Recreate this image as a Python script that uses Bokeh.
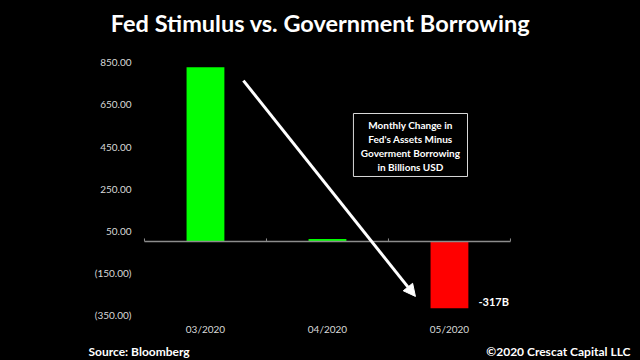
from bokeh.plotting import figure
from bokeh.layouts import column
from bokeh.models import Range1d, FixedTicker, Arrow, NormalHead
from bokeh.core.properties import value
from bokeh.embed import file_html
from bokeh.resources import INLINE

# ---- data ----
categories = ["03/2020", "04/2020", "05/2020"]
values = [826, 12, -317]
colors = ["#00ff00", "#00ff00", "#ff0000"]
y_ticks = [850, 650, 450, 250, 50, -150, -350]
y_tick_labels = ["850.00", "650.00", "450.00", "250.00", "50.00", "(150.00)", "(350.00)"]
title_text = "Fed Stimulus vs. Government Borrowing"
note_lines = ["Monthly Change in", "Fed's Assets Minus", "Goverment Borrowing", "in Billions USD"]
last_label = "-317B"
source_text = "Source: Bloomberg"
credit_text = "\u00a92020 Crescat Capital LLC"

FONT = "Lato"
BG = "#000000"
W = 640


def text_strip(height):
    fig = figure(width=W, height=height, output_backend="svg", toolbar_location=None,
                 x_range=Range1d(0, W), y_range=Range1d(0, height),
                 min_border=0, background_fill_color=BG, border_fill_color=BG,
                 outline_line_color=None)
    fig.axis.visible = False
    fig.grid.visible = False
    fig.frame_align = False
    return fig


# header
h = text_strip(44)
h.text(x=[320], y=[22], text=[title_text], text_align="center", text_baseline="middle",
       text_color="white", text_font=value(FONT), text_font_style="bold",
       text_font_size="23.5px")

xs = list(range(len(categories)))

p = figure(width=W, height=296, output_backend="svg", toolbar_location=None,
           x_range=Range1d(-0.549, 3.566), y_range=Range1d(-375.2, 905.6),
           min_border_left=138, min_border_right=0, min_border_top=6, min_border_bottom=20,
           background_fill_color=BG, border_fill_color=BG, outline_line_color=None)
p.grid.visible = False
p.frame_align = False

# bars
p.vbar(x=xs, top=values, bottom=0, width=0.31, fill_color=colors, line_color=None)

# zero line and small ticks
p.line(x=[-0.5, len(categories) - 0.5], y=[0, 0], line_color="#8c8c8c", line_width=1.5)
bounds = [i - 0.5 for i in range(len(categories) + 1)]
p.segment(x0=bounds, y0=[0] * len(bounds), x1=bounds, y1=[14] * len(bounds),
          line_color="#8c8c8c", line_width=1)

# y axis
ya = p.yaxis[0]
ya.ticker = FixedTicker(ticks=y_ticks)
ya.major_label_overrides = {t: l for t, l in zip(y_ticks, y_tick_labels)}
ya.axis_line_color = None
ya.major_tick_line_color = None
ya.minor_tick_line_color = None
ya.major_tick_out = 0
ya.major_tick_in = 0
ya.major_label_standoff = 7
ya.major_label_text_color = "#d9d9d9"
ya.major_label_text_font = FONT
ya.major_label_text_font_size = "10px"

# x axis
xa = p.xaxis[0]
xa.ticker = FixedTicker(ticks=xs)
xa.major_label_overrides = {i: c for i, c in zip(xs, categories)}
xa.axis_line_color = None
xa.major_tick_line_color = None
xa.minor_tick_line_color = None
xa.major_tick_out = 0
xa.major_tick_in = 0
xa.major_label_standoff = 2
xa.major_label_text_color = "#d9d9d9"
xa.major_label_text_font = FONT
xa.major_label_text_font_size = "10px"

# arrow
p.add_layout(Arrow(x_start=0.311, y_start=763, x_end=1.721, y_end=-261,
                   line_color="white", line_width=3,
                   end=NormalHead(size=12, fill_color="white", line_color="white")))

# annotation box
p.quad(left=1.213, right=2.148, bottom=307.9, top=606.7, fill_color=None,
       line_color="#d9d9d9", line_width=1)
p.text(x=[1.68] * 4, y=[550, 484, 421, 355], text=note_lines, text_align="center",
       text_baseline="middle", text_color="white", text_font=value(FONT),
       text_font_style="bold", text_font_size="10px")

# value label
p.text(x=[2.238], y=[-285], text=[last_label], text_align="left", text_baseline="middle",
       text_color="white", text_font=value(FONT), text_font_style="bold",
       text_font_size="11px")

# footer
f = text_strip(20)
f.text(x=[88], y=[9], text=[source_text], text_align="left", text_baseline="middle",
       text_color="white", text_font=value(FONT), text_font_style="bold",
       text_font_size="12px")
f.text(x=[630], y=[9], text=[credit_text], text_align="right", text_baseline="middle",
       text_color="white", text_font=value(FONT), text_font_style="bold",
       text_font_size="12px")

layout = column(h, p, f, spacing=0)
html = file_html(layout, INLINE)
html = html.replace("<head>", "<head><style>html,body{background:#000;}</style>", 1)
open("out.html", "w").write(html)
